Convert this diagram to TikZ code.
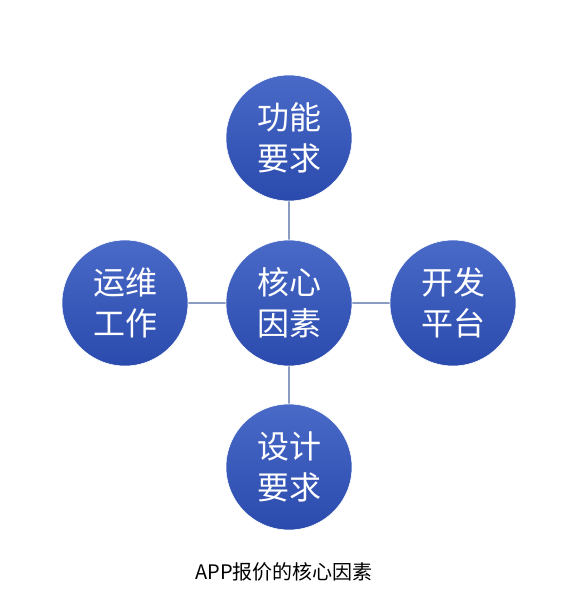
\documentclass[tikz,border=0pt]{standalone}
\usepackage{fontspec}
\newfontfamily\cjk{Noto Sans CJK SC}
\definecolor{ctop}{HTML}{4A6AC8}
\definecolor{cbot}{HTML}{2A4AAD}
\definecolor{link}{HTML}{8A9CC2}
\begin{document}
\begin{tikzpicture}[x=1pt,y=-1pt,
  ball/.style={circle,minimum size=126pt,inner sep=0pt,top color=ctop,bottom color=cbot,draw=white,line width=0.6pt,
    text=white,font=\cjk\fontsize{32}{41}\selectfont,align=center},
  link/.style={draw=link,line width=1.2pt}]
\path[use as bounding box,fill=white] (0,0) rectangle (560,597);
\draw[link] (289,138) -- (289,467);
\draw[link] (125,303) -- (453,303);
\node[ball] (top) at (289,138) {功能\\要求};
\node[ball] (c) at (289,303) {核心\\因素};
\node[ball] (l) at (125,303) {运维\\工作};
\node[ball] (r) at (453,303) {开发\\平台};
\node[ball] (b) at (289,467) {设计\\要求};
\node[font=\cjk\fontsize{20}{24}\selectfont] (cap) at (284,572) {APP报价的核心因素};
\end{tikzpicture}
\end{document}
